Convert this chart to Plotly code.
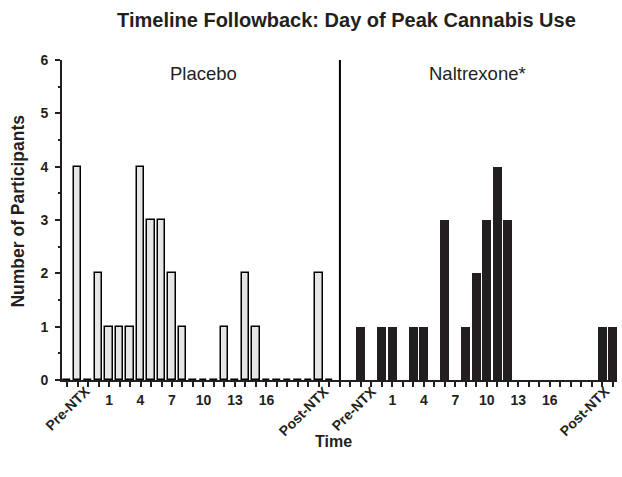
import plotly.graph_objects as go

# ---- data ----
groups = ["Placebo", "Naltrexone*"]
group_offsets = [0, 27]          # slot index where each group starts on the shared time axis
slots_per_group = 26
divider_slot = 26

# counts per slot (slot 1 = Pre-NTX, slot 24/25 = Post-NTX)
placebo_counts = [0, 4, 0, 2, 1, 1, 1, 4, 3, 3, 2, 1, 0, 0, 0, 1, 0, 2, 1, 0, 0, 0, 0, 0, 2, 0]
naltrexone_counts = [0, 1, 0, 1, 1, 0, 1, 1, 0, 3, 0, 1, 2, 3, 4, 3, 0, 0, 0, 0, 0, 0, 0, 0, 1, 1]

day_labels = ["1", "4", "7", "10", "13", "16"]
day_label_slots = [4, 7, 10, 13, 16, 19]
phase_labels = ["Pre-NTX", "Post-NTX"]
phase_label_slots = [[2.4, 25.15], [2.7, 24.9]]   # per group

y_ticks = [0, 1, 2, 3, 4, 5, 6]

FONT = "Liberation Sans, Arial, sans-serif"

fig = go.Figure()

slot_idx = list(range(slots_per_group))
fig.add_trace(go.Bar(
    x=[group_offsets[0] + s for s in slot_idx], y=placebo_counts, name=groups[0],
    width=0.7, marker=dict(color="#e6e6e6", line=dict(color="#000000", width=1.5)),
))
fig.add_trace(go.Bar(
    x=[group_offsets[1] + s for s in slot_idx], y=naltrexone_counts, name=groups[1],
    width=0.86, marker=dict(color="#231f20", line=dict(color="#231f20", width=0)),
))

# x ticks: every slot, numeric labels on day slots
tickvals = list(range(0, group_offsets[1] + slots_per_group))
ticktext = [""] * len(tickvals)
for off in group_offsets:
    for lab, s in zip(day_labels, day_label_slots):
        ticktext[off + s] = lab

# rotated phase labels
for off, slots in zip(group_offsets, phase_label_slots):
    for lab, s in zip(phase_labels, slots):
        fig.add_annotation(x=off + s, y=0, xref="x", yref="y", text=lab, textangle=-45,
                           showarrow=False, xanchor="right", yanchor="top", yshift=0, xshift=4,
                           font=dict(family=FONT, size=14, color="#231f20", weight="bold"))

# group labels
group_label_x = [13, 39.1]
for lab, gx in zip(groups, group_label_x):
    fig.add_annotation(x=gx, y=5.74, xref="x", yref="y", text=lab, showarrow=False,
                       xanchor="center", yanchor="middle",
                       font=dict(family=FONT, size=18.5, color="#231f20"))

# divider
fig.add_shape(type="line", x0=divider_slot, x1=divider_slot, y0=0, y1=6, xref="x", yref="y",
              line=dict(color="#000000", width=2))

# axis titles
fig.add_annotation(xref="paper", yref="paper", x=0, y=0.528, xshift=-43.5, text="Number of Participants",
                   textangle=-90, showarrow=False, xanchor="center", yanchor="middle",
                   font=dict(family=FONT, size=17.5, color="#231f20", weight="bold"))
fig.add_annotation(xref="paper", yref="paper", x=0.489, y=0, yshift=-61, text="Time",
                   showarrow=False, xanchor="center", yanchor="middle",
                   font=dict(family=FONT, size=16, color="#231f20", weight="bold"))

fig.update_layout(
    width=622, height=477,
    margin=dict(l=61.5, r=5.3, t=60, b=97, autoexpand=False),
    paper_bgcolor="white", plot_bgcolor="white",
    showlegend=False, bargap=0,
    title=dict(text="Timeline Followback: Day of Peak Cannabis Use", x=0.557, xref="container",
               xanchor="center", y=0.958, yref="container", yanchor="middle",
               font=dict(family=FONT, size=20, color="#231f20", weight="bold")),
    xaxis=dict(range=[-0.48, 52.4], tickvals=tickvals, ticktext=ticktext, showgrid=False,
               zeroline=False, showline=True, linecolor="#231f20", linewidth=2,
               ticks="outside", ticklen=5, tickwidth=1.5, tickcolor="#231f20",
               ticklabelstandoff=1, automargin=False,
               tickfont=dict(family=FONT, size=14, color="#231f20", weight="bold")),
    yaxis=dict(range=[0, 6], tickvals=y_ticks, showgrid=False, zeroline=False,
               showline=True, linecolor="#231f20", linewidth=2,
               ticks="outside", ticklen=5, tickwidth=1.5, tickcolor="#231f20",
               ticklabelstandoff=4, automargin=False,
               minor=dict(dtick=0.5, ticks="outside", ticklen=2.5, tickwidth=1.5, tickcolor="#231f20"),
               tickfont=dict(family=FONT, size=14, color="#231f20", weight="bold")),
)

fig.write_html("out.html", config={"displayModeBar": False},
               post_script="document.body.style.margin='0';document.body.style.overflow='hidden';")
